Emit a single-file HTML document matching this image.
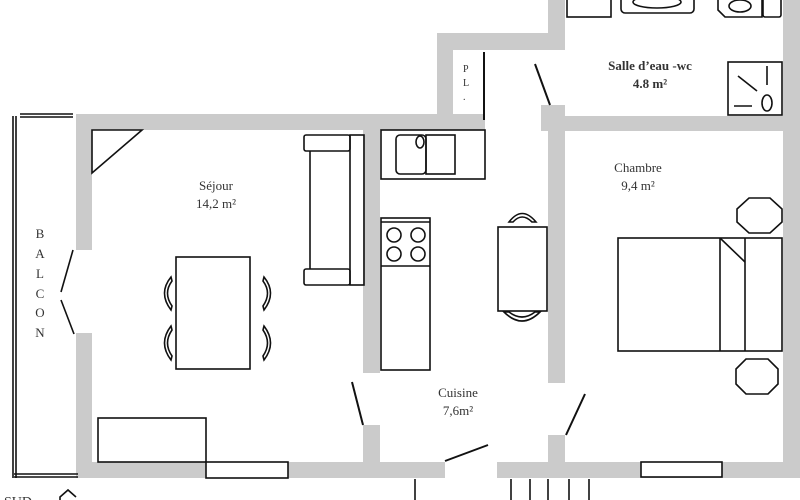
<!DOCTYPE html>
<html><head><meta charset="utf-8"><style>
html,body{margin:0;padding:0;background:#fff;width:800px;height:500px;overflow:hidden}
svg{display:block}
text{font-family:"Liberation Serif",serif;fill:#333}
</style></head><body>
<svg width="800" height="500" viewBox="0 0 800 500" xmlns="http://www.w3.org/2000/svg">
<g fill="#cbcbcb">
<!-- top walls -->
<rect x="76" y="114" width="409" height="16"/>
<rect x="541" y="116" width="259" height="15"/>
<rect x="541" y="105" width="24" height="26"/>
<!-- PL area -->
<rect x="437" y="33" width="128" height="17"/>
<rect x="437" y="33" width="16" height="97"/>
<rect x="548" y="0" width="17" height="50"/>
<!-- right wall -->
<rect x="783" y="0" width="17" height="478"/>
<!-- left wall -->
<rect x="76" y="114" width="16" height="136"/>
<rect x="76" y="333" width="16" height="145"/>
<!-- bottom wall -->
<rect x="76" y="462" width="369" height="16"/>
<rect x="497" y="462" width="303" height="16"/>
<!-- séjour/cuisine wall -->
<rect x="363" y="130" width="17" height="243"/>
<rect x="363" y="425" width="17" height="40"/>
<!-- cuisine/chambre wall -->
<rect x="548" y="130" width="17" height="253"/>
<rect x="548" y="435" width="17" height="30"/>
</g>
<g fill="none" stroke="#111" stroke-width="1.6">
<!-- balcony -->
<line x1="13" y1="116" x2="13" y2="478"/><line x1="16" y1="116" x2="16" y2="478"/>
<line x1="20" y1="114" x2="73" y2="114"/><line x1="20" y1="117" x2="73" y2="117"/>
<line x1="14" y1="474" x2="78" y2="474"/><line x1="14" y1="477" x2="78" y2="477"/>
<line x1="73" y1="250" x2="61" y2="292"/><line x1="61" y1="300" x2="74" y2="334"/>
<!-- corner triangle -->
<polygon points="92,130 142,130 92,173"/>
<!-- sofa -->
<rect x="304" y="135" width="46" height="16" rx="2"/>
<rect x="304" y="269" width="46" height="16" rx="2"/>
<rect x="350" y="135" width="14" height="150"/>
<line x1="310" y1="151" x2="310" y2="269"/>
<!-- dining table -->
<rect x="176" y="257" width="74" height="112"/>
<path d="M171,277 Q158,293 171,310 L172,306 Q163,293 172,281 Z"/>
<path d="M171,326 Q158,343 171,360 L172,356 Q163,343 172,330 Z"/>
<path d="M264,277 Q277,293 264,310 L263,306 Q272,293 263,281 Z"/>
<path d="M264,326 Q277,343 264,360 L263,356 Q272,343 263,330 Z"/>
<!-- sideboard & windows -->
<rect x="98" y="418" width="108" height="44"/>
<rect x="206" y="462" width="82" height="16" fill="#fff"/>
<rect x="641" y="462" width="81" height="15" fill="#fff"/>
<!-- kitchen -->
<rect x="381" y="130" width="104" height="49"/>
<rect x="396" y="135" width="30" height="39" rx="4"/>
<rect x="426" y="135" width="29" height="39"/>
<ellipse cx="420" cy="142" rx="4" ry="6"/>
<rect x="381" y="218" width="49" height="152"/>
<line x1="381" y1="222" x2="430" y2="222"/>
<line x1="381" y1="266" x2="430" y2="266"/>
<circle cx="394" cy="235" r="7"/><circle cx="418" cy="235" r="7"/>
<circle cx="394" cy="254" r="7"/><circle cx="418" cy="254" r="7"/>
<rect x="498" y="227" width="49" height="84"/>
<path d="M509,222 Q522,205 536,222 L532,222 Q522,212 513,222 Z"/>
<path d="M504,312 Q522,330 540,312 L535,312 Q522,322 509,312 Z"/>
<!-- doors -->
<line x1="352" y1="382" x2="363" y2="425" stroke-width="2"/>
<line x1="585" y1="394" x2="566" y2="435" stroke-width="2"/>
<line x1="445" y1="461" x2="488" y2="445" stroke-width="2"/>
<line x1="535" y1="64" x2="550" y2="105" stroke-width="2"/>
<line x1="484" y1="52" x2="484" y2="120" stroke-width="2"/>
<!-- chambre -->
<rect x="618" y="238" width="164" height="113"/>
<line x1="720" y1="238" x2="720" y2="351"/>
<line x1="745" y1="238" x2="745" y2="351"/>
<line x1="720" y1="238" x2="745" y2="262"/>
<polygon points="749,198 770,198 782,209 782,222 770,233 749,233 737,222 737,209"/>
<polygon points="746,359 768,359 778,369 778,384 768,394 746,394 736,384 736,369"/>
<!-- bathroom -->
<rect x="567" y="-2" width="44" height="19"/>
<rect x="621" y="-4" width="73" height="17" rx="4"/>
<ellipse cx="657" cy="2" rx="24" ry="6"/>
<path d="M718,-2 L718,10 L725,17 L762,17 L762,-2"/>
<ellipse cx="740" cy="6" rx="11" ry="6"/>
<rect x="763" y="-2" width="18" height="19" rx="2"/>
<rect x="728" y="62" width="54" height="53"/>
<line x1="738" y1="76" x2="757" y2="91"/>
<line x1="767" y1="66" x2="767" y2="85"/>
<line x1="734" y1="106" x2="752" y2="106"/>
<ellipse cx="767" cy="103" rx="5" ry="8"/>
<!-- below -->
<line x1="415" y1="479" x2="415" y2="500"/>
<line x1="511" y1="479" x2="511" y2="500"/>
<line x1="530" y1="479" x2="530" y2="500"/>
<line x1="548" y1="479" x2="548" y2="500"/>
<line x1="569" y1="479" x2="569" y2="500"/>
<line x1="589" y1="479" x2="589" y2="500"/>
<path d="M60,500 L60,497 L68,490 L76,497" />
</g>
<g font-size="13" text-anchor="middle">
<text x="216" y="190">Séjour</text>
<text x="216" y="208">14,2 m²</text>
<text x="638" y="172">Chambre</text>
<text x="638" y="190">9,4 m²</text>
<text x="458" y="397">Cuisine</text>
<text x="458" y="415">7,6m²</text>
<text x="650" y="70" font-weight="bold" fill="#444">Salle d’eau -wc</text>
<text x="650" y="88" font-weight="bold" fill="#444">4.8 m²</text>
<text x="40" y="238">B</text>
<text x="40" y="258">A</text>
<text x="40" y="278">L</text>
<text x="40" y="298">C</text>
<text x="40" y="317">O</text>
<text x="40" y="337">N</text>
</g>
<text x="463" y="72" font-size="10">P</text>
<text x="463" y="86" font-size="10">L</text>
<text x="463" y="100" font-size="10">.</text>
<text x="4" y="506" font-size="14">SUD</text>
</svg>
</body></html>
